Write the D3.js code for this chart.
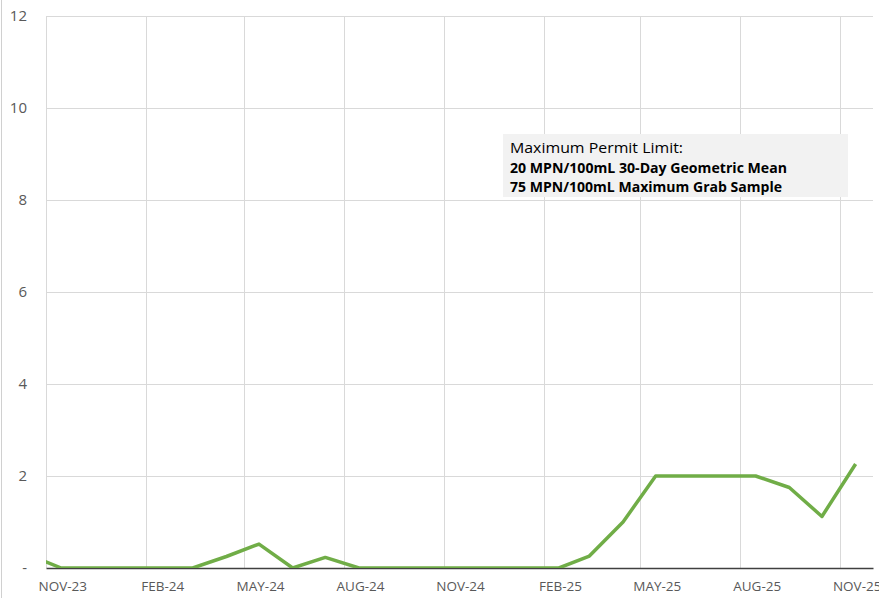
<!DOCTYPE html>
<html>
<head>
<meta charset="utf-8">
<script src="https://cdn.jsdelivr.net/npm/d3@7"></script>
<style>
  body { margin: 0; background: #fff; }
  text { font-family: "Open Sans", "Noto Sans", sans-serif; }
</style>
</head>
<body>
<div id="chart"></div>
<script>
// chart values (mid-month samples)
var months = ["2023-10-15", "2023-11-15", "2023-12-15", "2024-01-15", "2024-02-15", "2024-03-15",
  "2024-04-15", "2024-05-15", "2024-06-15", "2024-07-15", "2024-08-15", "2024-09-15",
  "2024-10-15", "2024-11-15", "2024-12-15", "2025-01-15", "2025-02-15", "2025-03-15",
  "2025-04-15", "2025-05-15", "2025-06-15", "2025-07-15", "2025-08-15", "2025-09-15",
  "2025-10-15", "2025-11-15"];
var values = [0.3, 0, 0, 0, 0, 0,
  0.25, 0.52, 0, 0.23, 0, 0,
  0, 0, 0, 0, 0, 0.26,
  1.0, 2.0, 2.0, 2.0, 2.0, 1.75,
  1.12, 2.26];
var yTicks = [0, 2, 4, 6, 8, 10, 12];
var xTicks = ["2023-11-01", "2024-02-01", "2024-05-01", "2024-08-01", "2024-11-01",
  "2025-02-01", "2025-05-01", "2025-08-01", "2025-11-01"];
var noteLines = ["Maximum Permit Limit:", "20 MPN/100mL 30-Day Geometric Mean",
  "75 MPN/100mL Maximum Grab Sample"];

var svgWidth = 879;
var svgHeight = 598;
var margin = { top: 16, right: 6, bottom: 30, left: 46 };
var width = svgWidth - margin.left - margin.right;
var height = svgHeight - margin.top - margin.bottom;

var parse = d3.timeParse("%Y-%m-%d");
var data = months.map(function(m, i) { return { date: parse(m), value: values[i] }; });

var svg = d3.select("#chart").append("svg")
  .attr("width", svgWidth)
  .attr("height", svgHeight);

// outer chart border on the left
svg.append("line")
  .attr("x1", 1.5).attr("x2", 1.5)
  .attr("y1", 0).attr("y2", svgHeight)
  .attr("stroke", "#d0d0d0");

var chartGroup = svg.append("g")
  .attr("transform", `translate(${margin.left}, ${margin.top})`);

var x = d3.scaleTime()
  .domain([parse("2023-11-01"), parse("2025-12-01")])
  .range([0, width]);
var y = d3.scaleLinear()
  .domain([0, 12])
  .range([height, 0]);

// gridlines
chartGroup.append("g")
  .selectAll("line.h")
  .data(yTicks.slice(1))
  .enter().append("line")
  .attr("x1", 0).attr("x2", width)
  .attr("y1", d => Math.round(y(d)) + 0.5).attr("y2", d => Math.round(y(d)) + 0.5)
  .attr("stroke", "#d9d9d9");

chartGroup.append("g")
  .selectAll("line.v")
  .data(xTicks)
  .enter().append("line")
  .attr("x1", d => Math.round(x(parse(d))) + 0.5).attr("x2", d => Math.round(x(parse(d))) + 0.5)
  .attr("y1", 0).attr("y2", height)
  .attr("stroke", "#d9d9d9");

// y axis labels
var leftAxis = d3.axisLeft(y)
  .tickValues(yTicks)
  .tickSize(0)
  .tickPadding(19)
  .tickFormat(d => d === 0 ? "-" : d);
var yAxis = chartGroup.append("g").call(leftAxis);
yAxis.select(".domain").remove();
yAxis.selectAll("text")
  .attr("fill", "#595959")
  .style("font-size", "15px");

// x axis - labels sit in the middle of their month
var bottomAxis = d3.axisBottom(x)
  .tickValues(xTicks.map(d => d3.timeDay.offset(parse(d), 15)))
  .tickSize(0)
  .tickPadding(13)
  .tickFormat(d => d3.timeFormat("%b-%y")(d).toUpperCase());
var xAxis = chartGroup.append("g")
  .attr("transform", `translate(0, ${height})`)
  .call(bottomAxis);
xAxis.select(".domain")
  .attr("stroke", "#404040")
  .attr("stroke-width", 1.5);
xAxis.selectAll("text")
  .attr("fill", "#595959")
  .style("font-size", "13.5px");

// data line, clipped to plot area
chartGroup.append("clipPath").attr("id", "clip")
  .append("rect").attr("x", 0).attr("y", -5).attr("width", width + 5).attr("height", height + 5);

var line = d3.line()
  .x(d => x(d.date))
  .y(d => y(d.value));

chartGroup.append("path")
  .datum(data)
  .attr("clip-path", "url(#clip)")
  .attr("fill", "none")
  .attr("stroke", "#70ad47")
  .attr("stroke-width", 3.5)
  .attr("stroke-linejoin", "round")
  .attr("d", line);

// permit limit note
var note = svg.append("g").attr("transform", "translate(503, 134)");
note.append("rect")
  .attr("width", 345).attr("height", 63)
  .attr("fill", "#f2f2f2");
note.selectAll("text")
  .data(noteLines)
  .enter().append("text")
  .attr("x", 7)
  .attr("y", (d, i) => 19 + i * 19.5)
  .attr("fill", "#000")
  .style("font-size", "15px")
  .style("font-weight", (d, i) => i === 0 ? "normal" : "bold")
  .attr("textLength", (d, i) => [173, 277, 272][i])
  .attr("lengthAdjust", "spacingAndGlyphs")
  .text(d => d);
</script>
</body>
</html>
